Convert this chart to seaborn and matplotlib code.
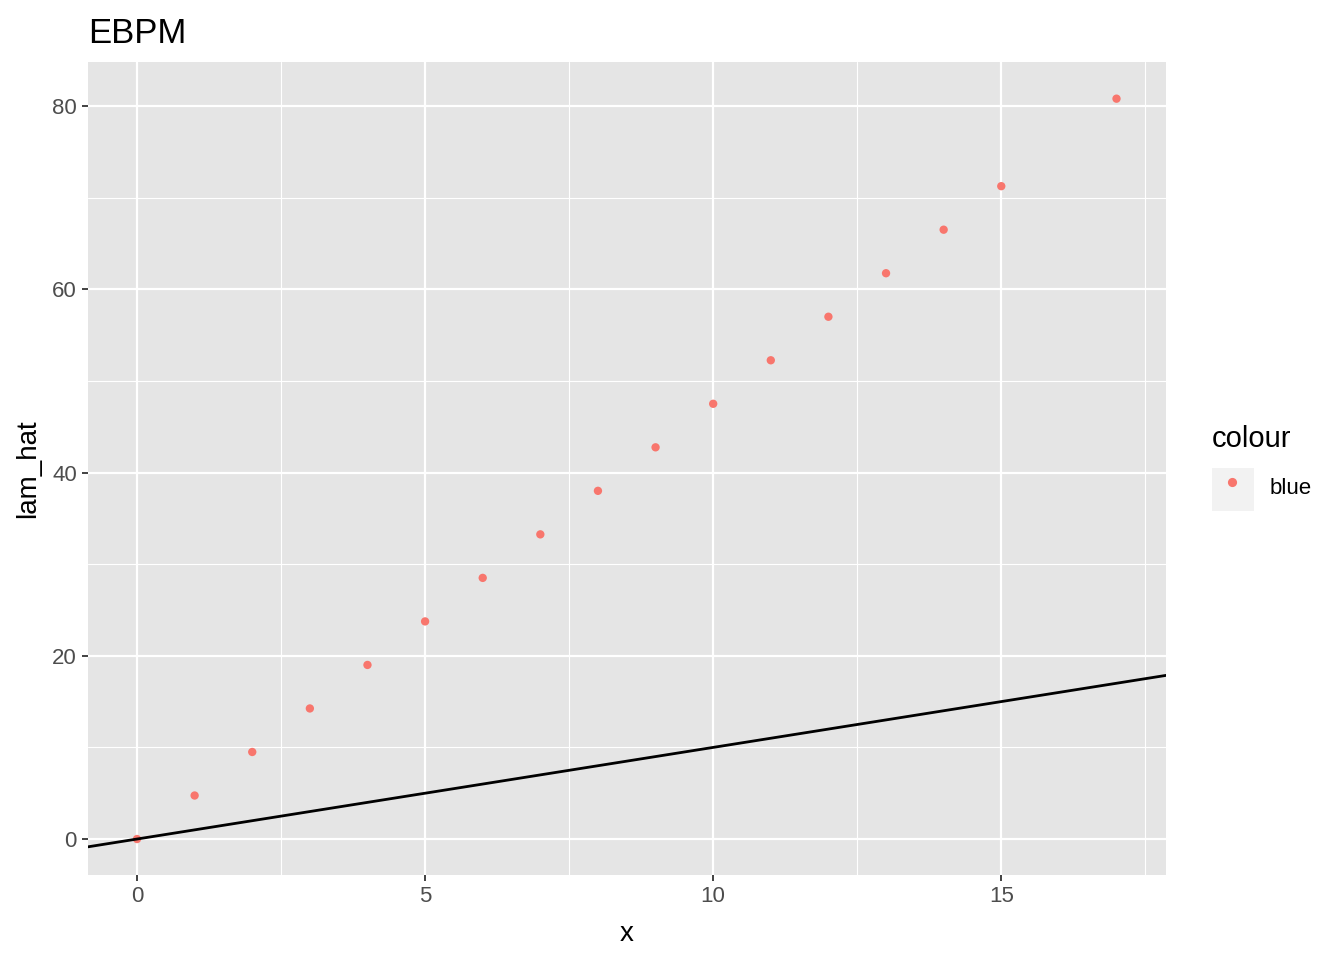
import numpy as np
import pandas as pd
import seaborn as sns
import matplotlib.pyplot as plt
from matplotlib.patches import Rectangle
from matplotlib.ticker import MultipleLocator

# data
x_vals = [0, 1, 2, 3, 4, 5, 6, 7, 8, 9, 10, 11, 12, 13, 14, 15, 17]
lam_hat = [0.0, 4.75, 9.5, 14.25, 19.0, 23.75, 28.5, 33.25, 38.0, 42.75,
           47.5, 52.25, 57.0, 61.75, 66.5, 71.25, 80.8]
colour = ['blue'] * len(x_vals)

df = pd.DataFrame({'x': x_vals, 'lam_hat': lam_hat, 'colour': colour})

sns.set_style('darkgrid', {'axes.facecolor': '#E5E5E5', 'grid.color': 'white'})
plt.rcParams['font.family'] = ['Liberation Sans', 'DejaVu Sans']
plt.rcParams['text.color'] = 'black'

fig = plt.figure(figsize=(13.44, 9.6), dpi=100)
ax = fig.add_axes([0.0655, 0.0885, 0.8021, 0.8469])

sns.scatterplot(data=df, x='x', y='lam_hat', hue='colour', palette={'blue': '#F8766D'},
                s=36, linewidth=0, ax=ax, zorder=3)

# identity line (abline slope 1, intercept 0)
ax.axline((0, 0), slope=1, color='black', linewidth=2.0, zorder=4)

ax.set_xlim(-0.85, 17.86)
ax.set_ylim(-3.93, 84.8)
ax.xaxis.set_major_locator(MultipleLocator(5))
ax.xaxis.set_minor_locator(MultipleLocator(2.5))
ax.yaxis.set_major_locator(MultipleLocator(20))
ax.yaxis.set_minor_locator(MultipleLocator(10))
ax.grid(which='major', color='white', linewidth=1.6)
ax.grid(which='minor', color='white', linewidth=0.8)
ax.set_axisbelow(True)
for s in ax.spines.values():
    s.set_visible(False)

ax.tick_params(which='major', length=4, width=1.3, color='#333333',
               labelsize=16, labelcolor='#4D4D4D', pad=4, bottom=True, left=True)
ax.tick_params(which='minor', length=0)

ax.set_xlabel('x', fontsize=20, color='black', labelpad=10)
ax.set_ylabel('lam_hat', fontsize=20, color='black', labelpad=8)
ax.set_title('EBPM', fontsize=25, loc='left', pad=14, color='black')

leg = ax.legend(title='colour', loc='center left', bbox_to_anchor=(1.042, 0.505),
                frameon=False, fontsize=16, title_fontsize=21, markerscale=1.1,
                handletextpad=0.7, borderaxespad=0, borderpad=0,
                handlelength=1.9, handleheight=1.95)
leg._legend_box.align = 'left'
leg._legend_box.sep = 12
leg.get_title().set_color('black')
for t in leg.get_texts():
    t.set_color('black')

# grey legend key background, behind the axes/legend
fig.patches.append(Rectangle((1212 / 1344, 1 - 511 / 960), 42 / 1344, 43 / 960,
                             transform=fig.transFigure, facecolor='#F2F2F2',
                             edgecolor='none', zorder=-1))

fig.savefig('out.png', dpi=100)
